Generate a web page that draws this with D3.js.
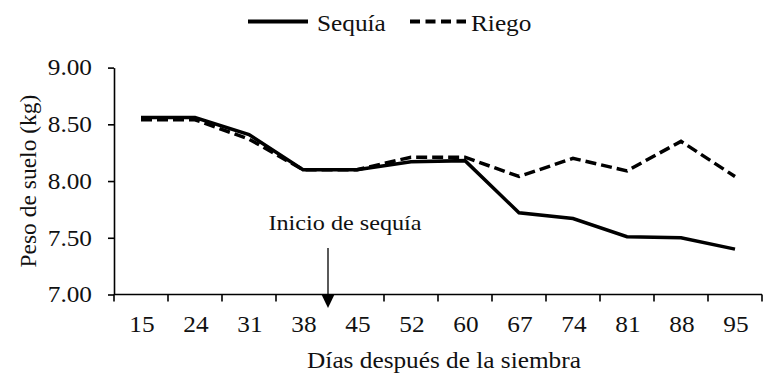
<!DOCTYPE html>
<html lang="es">
<head>
<meta charset="UTF-8">
<title>Peso de suelo</title>
<style>
  body { margin: 0; background: #fff; }
</style>
</head>
<body>
<div id="chart"></div>
<script src="https://d3js.org/d3.v7.min.js"></script>
<script>
const days = ["15", "24", "31", "38", "45", "52", "60", "67", "74", "81", "88", "95"];
const sequia = [8.56, 8.56, 8.41, 8.10, 8.10, 8.17, 8.18, 7.72, 7.67, 7.51, 7.50, 7.40];
const riego = [8.54, 8.54, 8.37, 8.10, 8.10, 8.21, 8.21, 8.04, 8.20, 8.09, 8.35, 8.04];
const yTicks = [7.0, 7.5, 8.0, 8.5, 9.0];

const width = 775, height = 379;
const margin = {left: 114, right: 13, top: 67.6, bottom: 84.5};
const FONT = "'Liberation Serif', 'Times New Roman', serif";
const FS = 23;
const SX = 1.1; // the original text is a bit wider than plain Times

const svg = d3.select("#chart").append("svg")
  .attr("width", width)
  .attr("height", height)
  .style("font-family", FONT);

const x = d3.scaleBand()
  .domain(days)
  .range([margin.left, width - margin.right]);

const y = d3.scaleLinear()
  .domain([7, 9])
  .range([height - margin.bottom, margin.top]);

function label(px, py, str, anchor, size) {
  return svg.append("text")
    .attr("transform", `translate(${px},${py}) scale(${SX},1)`)
    .attr("text-anchor", anchor)
    .style("font-size", size + "px")
    .attr("fill", "#111")
    .text(str);
}

// y axis
const yAxis = svg.append("g")
  .attr("transform", `translate(${margin.left},0)`)
  .call(d3.axisLeft(y).tickValues(yTicks).tickFormat(d3.format(".2f")).tickSize(6).tickPadding(14).tickSizeOuter(0))
  .attr("font-family", null)
  .attr("font-size", null);
yAxis.select(".domain").attr("stroke", "#000").attr("stroke-width", 1.6);
yAxis.selectAll(".tick line").attr("stroke", "#000").attr("stroke-width", 1.6);
yAxis.selectAll(".tick text")
  .attr("transform", `scale(${SX},1)`)
  .style("font-size", FS + "px")
  .attr("fill", "#111");

// x axis: ticks at band boundaries
const xBase = height - margin.bottom;
const xAxis = svg.append("g");
xAxis.append("line")
  .attr("x1", margin.left).attr("x2", width - margin.right)
  .attr("y1", xBase).attr("y2", xBase)
  .attr("stroke", "#000").attr("stroke-width", 1.6);
const bounds = days.map(d => x(d)).concat([x(days[days.length - 1]) + x.bandwidth()]);
xAxis.selectAll(".xt")
  .data(bounds)
  .enter().append("line")
  .attr("x1", d => d).attr("x2", d => d)
  .attr("y1", xBase).attr("y2", xBase + 7)
  .attr("stroke", "#000").attr("stroke-width", 1.6);
days.forEach(d => label(x(d) + x.bandwidth() / 2 + 1, 331.5, d, "middle", FS));

label(444, 368, "Días después de la siembra", "middle", FS);

svg.append("text")
  .attr("transform", `translate(36,${(margin.top + xBase) / 2}) rotate(-90)`)
  .attr("text-anchor", "middle")
  .style("font-size", "23.5px")
  .attr("fill", "#111")
  .text("Peso de suelo (kg)");

// lines
const line = d3.line()
  .x((d, i) => x(days[i]) + x.bandwidth() / 2)
  .y(d => y(d));

svg.append("path")
  .datum(riego)
  .attr("d", line)
  .attr("fill", "none")
  .attr("stroke", "#000")
  .attr("stroke-width", 3.5)
  .attr("stroke-dasharray", "11,5");

svg.append("path")
  .datum(sequia)
  .attr("d", line)
  .attr("fill", "none")
  .attr("stroke", "#000")
  .attr("stroke-width", 3.5);

// annotation: start of drought, between 38 and 45
const ax = x("45") - 2;
svg.append("line")
  .attr("x1", ax).attr("x2", ax)
  .attr("y1", 248).attr("y2", xBase + 2)
  .attr("stroke", "#000").attr("stroke-width", 1.3);
svg.append("path")
  .attr("d", `M${ax - 6.5},${xBase} L${ax + 6.5},${xBase} L${ax},${xBase + 13.5} Z`)
  .attr("fill", "#000");
label(345, 230, "Inicio de sequía", "middle", 22);

// legend
svg.append("line")
  .attr("x1", 248).attr("x2", 308).attr("y1", 21.5).attr("y2", 21.5)
  .attr("stroke", "#000").attr("stroke-width", 4);
label(317, 31, "Sequía", "start", FS);
svg.append("line")
  .attr("x1", 410).attr("x2", 466).attr("y1", 21.5).attr("y2", 21.5)
  .attr("stroke", "#000").attr("stroke-width", 4)
  .attr("stroke-dasharray", "10,5.5");
label(471, 31, "Riego", "start", FS);
</script>
</body>
</html>
